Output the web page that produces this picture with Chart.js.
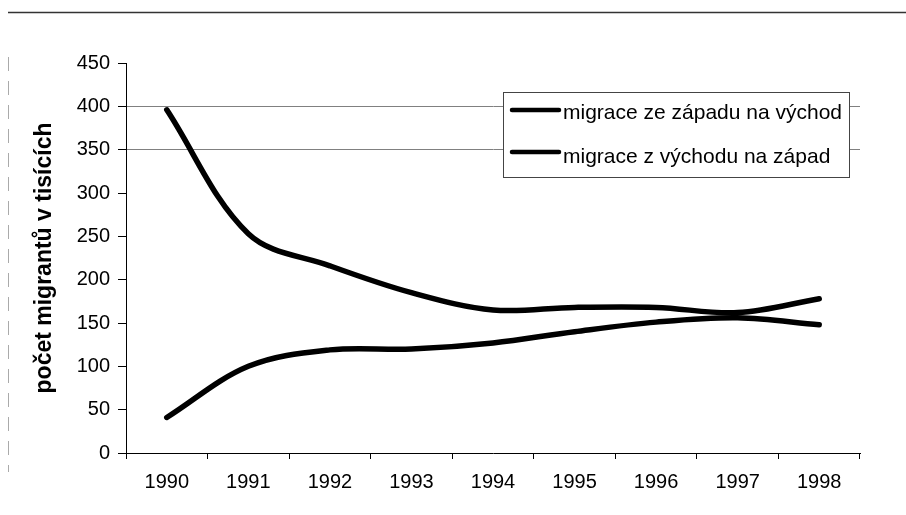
<!DOCTYPE html>
<html lang="cs">
<head>
<meta charset="utf-8">
<title>Migrace mezi západem a východem</title>
<script src="https://cdn.jsdelivr.net/npm/chart.js@4/dist/chart.umd.min.js"></script>
<style>
  html, body { margin: 0; padding: 0; background: #fff; }
  canvas { display: block; }
</style>
</head>
<body>
<canvas id="migraceChart" width="906" height="515"></canvas>
<script>
// data (thousands of migrants)
const years = ["1990", "1991", "1992", "1993", "1994", "1995", "1996", "1997", "1998"];
const zapadNaVychod = [396, 253, 216, 185, 165, 168, 168, 162, 178];
const vychodNaZapad = [41, 100, 119, 120, 127, 140, 151, 156, 148];
const seriesLabels = ["migrace ze západu na východ", "migrace z východu na západ"];
const yTicks = [0, 50, 100, 150, 200, 250, 300, 350, 400, 450];
const visibleGridLines = [350, 400];
const yTitle = "počet migrantů v tisících";

const FONT = "'Liberation Sans', Arial, sans-serif";

// ── scan frame: top rule + faint dashed left edge ────────────
const scanFrame = {
  id: "scanFrame",
  beforeDraw(chart) {
    const ctx = chart.ctx;
    ctx.save();
    ctx.strokeStyle = "#333";
    ctx.lineWidth = 1.5;
    ctx.beginPath();
    ctx.moveTo(8, 12.5);
    ctx.lineTo(chart.width, 12.5);
    ctx.stroke();

    ctx.strokeStyle = "#aaa";
    ctx.lineWidth = 1;
    ctx.setLineDash([14, 10]);
    ctx.beginPath();
    ctx.moveTo(8.5, 57);
    ctx.lineTo(8.5, 472);
    ctx.stroke();
    ctx.restore();
  }
};

// ── boxed legend inside the plot, like the original ─────────
const boxLegend = {
  id: "boxLegend",
  afterDraw(chart) {
    const ctx = chart.ctx;
    const box = { x: 503, y: 92, w: 346, h: 85 };
    const sampleY = [110, 152];
    const baseY = [119, 163];

    ctx.save();
    ctx.fillStyle = "#fff";
    ctx.fillRect(box.x, box.y, box.w, box.h);
    ctx.strokeStyle = "#444";
    ctx.lineWidth = 1;
    ctx.strokeRect(box.x + 0.5, box.y + 0.5, box.w, box.h);

    chart.data.datasets.forEach((ds, i) => {
      ctx.strokeStyle = ds.borderColor;
      ctx.lineWidth = 4.5;
      ctx.lineCap = "round";
      ctx.beginPath();
      ctx.moveTo(box.x + 9, sampleY[i]);
      ctx.lineTo(box.x + 56, sampleY[i]);
      ctx.stroke();

      ctx.fillStyle = "#000";
      ctx.font = "21px " + FONT;
      ctx.textBaseline = "alphabetic";
      ctx.textAlign = "left";
      ctx.fillText(ds.label, box.x + 60, baseY[i]);
    });
    ctx.restore();
  }
};

new Chart(document.getElementById("migraceChart").getContext("2d"), {
  type: "line",
  data: {
    labels: years,
    datasets: [
      { label: seriesLabels[0], data: zapadNaVychod, borderColor: "#000" },
      { label: seriesLabels[1], data: vychodNaZapad, borderColor: "#000" }
    ]
  },
  options: {
    responsive: false,
    animation: false,
    layout: { padding: { left: 0, right: 46, top: 63, bottom: 0 } },
    plugins: {
      legend:  { display: false },
      tooltip: { enabled: false }
    },
    elements: {
      point: { radius: 0 },
      line:  { tension: 0.35, borderWidth: 5.5, borderCapStyle: "round", fill: false }
    },
    scales: {
      x: {
        offset: true,
        grid: { offset: true, drawOnChartArea: false, tickLength: 6, tickColor: "#000" },
        border: { color: "#000", width: 1 },
        ticks: { color: "#000", font: { family: FONT, size: 20 }, padding: 11, maxRotation: 0 },
        afterFit(scale) { scale.height = 62; }
      },
      y: {
        min: yTicks[0],
        max: yTicks[yTicks.length - 1],
        afterBuildTicks(scale) { scale.ticks = yTicks.map(v => ({ value: v })); },
        ticks: { color: "#000", font: { family: FONT, size: 20 }, padding: 8 },
        grid: {
          color: c => (c.tick && visibleGridLines.includes(c.tick.value)) ? "#808080" : "rgba(0,0,0,0)",
          tickColor: "#000",
          tickLength: 8
        },
        border: { color: "#000", width: 1 },
        title: {
          display: true,
          text: yTitle,
          color: "#000",
          font: { family: FONT, size: 23, weight: "bold" },
          padding: { top: 31, bottom: 0 }
        },
        afterFit(scale) { scale.width = 126; }
      }
    }
  },
  plugins: [scanFrame, boxLegend]
});
</script>
</body>
</html>
